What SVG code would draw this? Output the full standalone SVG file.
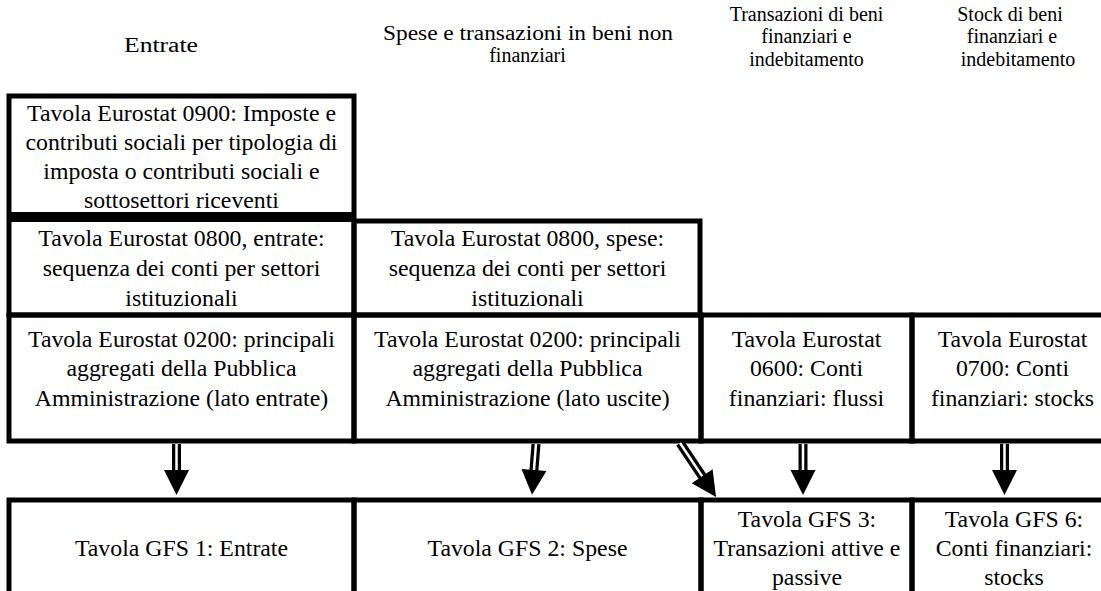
<svg xmlns="http://www.w3.org/2000/svg" width="1101" height="591" viewBox="0 0 1101 591">
<style>
.bx{fill:none;stroke:#000;stroke-width:5}
.t{font-family:'Liberation Serif',Tinos,'Times New Roman',serif;font-size:23.8px;fill:#000;text-anchor:middle}
.h{font-family:'Liberation Serif',Tinos,'Times New Roman',serif;font-size:20px;fill:#000;text-anchor:middle}
.so{stroke:#000;stroke-width:9;fill:none}
.si{stroke:#fff;stroke-width:2.5;fill:none}
.hd{fill:#000}
</style>
<rect width="1101" height="591" fill="#fff"/>
<g id="headers">
<text class="h" x="161" y="52" textLength="74" lengthAdjust="spacingAndGlyphs">Entrate</text>
<text class="h" x="528" y="40" textLength="290" lengthAdjust="spacingAndGlyphs">Spese e transazioni in beni non</text>
<text class="h" x="527.5" y="62">finanziari</text>
<text class="h" x="806.5" y="21">Transazioni di beni</text>
<text class="h" x="806.5" y="43">finanziari e</text>
<text class="h" x="806.5" y="66">indebitamento</text>
<text class="h" x="1010" y="21">Stock di beni</text>
<text class="h" x="1012" y="43">finanziari e</text>
<text class="h" x="1018" y="66">indebitamento</text>
</g>
<g id="n0900">
<rect class="bx" x="9" y="96" width="345" height="118.5"/>
<text class="t" x="181.5" y="121">Tavola Eurostat 0900: Imposte e</text>
<text class="t" x="181.5" y="150">contributi sociali per tipologia di</text>
<text class="t" x="181.5" y="179">imposta o contributi sociali e</text>
<text class="t" x="181.5" y="208">sottosettori riceventi</text>
</g>
<g id="n0800e">
<rect class="bx" x="9" y="219.5" width="345" height="95.5"/>
<text class="t" x="181.5" y="246">Tavola Eurostat 0800, entrate:</text>
<text class="t" x="181.5" y="276">sequenza dei conti per settori</text>
<text class="t" x="181.5" y="306">istituzionali</text>
</g>
<g id="n0800s">
<rect class="bx" x="354" y="221" width="346" height="94"/>
<text class="t" x="527.5" y="246">Tavola Eurostat 0800, spese:</text>
<text class="t" x="527.5" y="276">sequenza dei conti per settori</text>
<text class="t" x="527.5" y="306">istituzionali</text>
</g>
<g id="n0200e">
<rect class="bx" x="9" y="315" width="345" height="126"/>
<text class="t" x="181.5" y="347">Tavola Eurostat 0200: principali</text>
<text class="t" x="181.5" y="376">aggregati della Pubblica</text>
<text class="t" x="181.5" y="406">Amministrazione (lato entrate)</text>
</g>
<g id="n0200u">
<rect class="bx" x="354" y="315" width="347" height="126"/>
<text class="t" x="527.5" y="347">Tavola Eurostat 0200: principali</text>
<text class="t" x="527.5" y="376">aggregati della Pubblica</text>
<text class="t" x="527.5" y="406">Amministrazione (lato uscite)</text>
</g>
<g id="n0600">
<rect class="bx" x="701" y="315" width="211" height="126"/>
<text class="t" x="806.5" y="347">Tavola Eurostat</text>
<text class="t" x="806.5" y="376">0600: Conti</text>
<text class="t" x="806.5" y="406">finanziari: flussi</text>
</g>
<g id="n0700">
<rect class="bx" x="912" y="315" width="200" height="126"/>
<text class="t" x="1012.5" y="347">Tavola Eurostat</text>
<text class="t" x="1012.5" y="376">0700: Conti</text>
<text class="t" x="1012.5" y="406">finanziari: stocks</text>
</g>
<g id="gfs1">
<rect class="bx" x="9" y="500" width="345" height="100"/>
<text class="t" x="181.5" y="556">Tavola GFS 1: Entrate</text>
</g>
<g id="gfs2">
<rect class="bx" x="354" y="500" width="347" height="100"/>
<text class="t" x="527.5" y="556">Tavola GFS 2: Spese</text>
</g>
<g id="gfs3">
<rect class="bx" x="701" y="500" width="211" height="100"/>
<text class="t" x="807" y="527">Tavola GFS 3:</text>
<text class="t" x="807" y="556">Transazioni attive e</text>
<text class="t" x="807" y="585">passive</text>
</g>
<g id="gfs6">
<rect class="bx" x="912" y="500" width="200" height="100"/>
<text class="t" x="1014" y="527">Tavola GFS 6:</text>
<text class="t" x="1014" y="556">Conti finanziari:</text>
<text class="t" x="1014" y="585">stocks</text>
</g>
<g id="connectors">
<g transform="translate(176.5,444)">
<path class="so" d="M0,0V27"/><path class="si" d="M0,0V27"/><polygon class="hd" points="-12.5,26 12.5,26 0,51"/>
</g>
<g transform="translate(536,444) rotate(4.5)">
<path class="so" d="M0,0V27"/><path class="si" d="M0,0V27"/><polygon class="hd" points="-12.5,26 12.5,26 0,51"/>
</g>
<g transform="translate(680,443) rotate(-33.7)">
<path class="so" d="M0,0V41"/><path class="si" d="M0,0V41"/><polygon class="hd" points="-12.5,40 12.5,40 0,65"/>
</g>
<g transform="translate(803,444)">
<path class="so" d="M0,0V27"/><path class="si" d="M0,0V27"/><polygon class="hd" points="-12.5,26 12.5,26 0,51"/>
</g>
<g transform="translate(1004.5,444)">
<path class="so" d="M0,0V27"/><path class="si" d="M0,0V27"/><polygon class="hd" points="-12.5,26 12.5,26 0,51"/>
</g>
</g>
</svg>
